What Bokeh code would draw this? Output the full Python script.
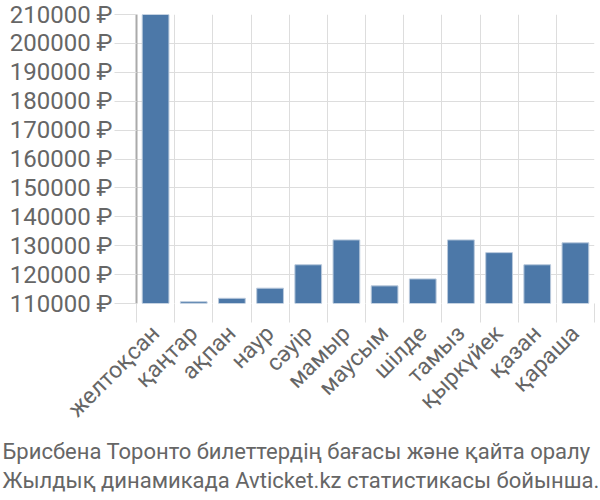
from bokeh.plotting import figure
from bokeh.models import FixedTicker, Title, Range1d
from bokeh.embed import file_html
from bokeh.resources import INLINE
import math

months = ["желтоқсан", "қаңтар", "ақпан", "наур", "сәуір", "мамыр", "маусым",
          "шілде", "тамыз", "қыркүйек", "қазан", "қараша"]
prices = [210000, 110600, 111800, 115300, 123400, 132000, 116100,
          118500, 132000, 127600, 123400, 131000]
y_ticks = [110000, 120000, 130000, 140000, 150000, 160000, 170000, 180000, 190000, 200000, 210000]
caption1 = "Брисбена Торонто билеттердің бағасы және қайта оралу"
caption2 = "Жылдық динамикада Avticket.kz статистикасы бойынша."

FONT = "Roboto"
TXT = "#666666"

n = len(months)
xs = [i + 0.5 for i in range(n)]
base = y_ticks[0]

p = figure(output_backend="svg", toolbar_location=None,
           x_range=Range1d(0, n), y_range=Range1d(base, y_ticks[-1]),
           frame_width=458, frame_height=289,
           min_border_left=136, min_border_top=14, min_border_right=6, min_border_bottom=0)
p.outline_line_color = None

p.vbar(x=xs, top=prices, bottom=base, width=0.7, fill_color="#4c78a8",
       line_color="#b9c9dc", line_width=1)

# x axis
p.xaxis.ticker = FixedTicker(ticks=xs, minor_ticks=list(range(n + 1)))
p.xaxis.major_label_overrides = {x: m for x, m in zip(xs, months)}
p.xaxis.major_label_orientation = math.pi / 4
p.xaxis.major_tick_line_color = None
p.xaxis.minor_tick_line_color = "#dddddd"
p.xaxis.minor_tick_out = 19
p.xaxis.minor_tick_in = 0
p.xaxis.axis_line_color = None
p.xaxis.major_label_text_font = FONT
p.xaxis.major_label_text_font_size = "23px"
p.xaxis.major_label_text_color = TXT
p.xaxis.major_label_standoff = 7

p.xgrid.grid_line_color = None
p.xgrid.minor_grid_line_color = "#dddddd"

# y axis
p.yaxis.ticker = FixedTicker(ticks=y_ticks)
p.yaxis.major_label_overrides = {v: f"{v} ₽" for v in y_ticks}
p.yaxis.major_label_text_font = FONT
p.yaxis.major_label_text_font_size = "24px"
p.yaxis.major_label_text_color = TXT
p.yaxis.major_tick_line_color = "#dddddd"
p.yaxis.major_tick_out = 22
p.yaxis.major_tick_in = 0
p.yaxis.minor_tick_line_color = None
p.yaxis.axis_line_color = "#aaaaaa"
p.yaxis.axis_line_width = 2
p.yaxis.major_label_standoff = 2
p.ygrid.grid_line_color = "#dddddd"

for c in (caption1, caption2):
    t = Title(text=c, align="left", offset=-134, text_font=FONT, text_font_size="22px",
              text_color=TXT, text_font_style="normal", standoff=2)
    p.add_layout(t, "below")

open("out.html", "w").write(file_html(p, INLINE))
